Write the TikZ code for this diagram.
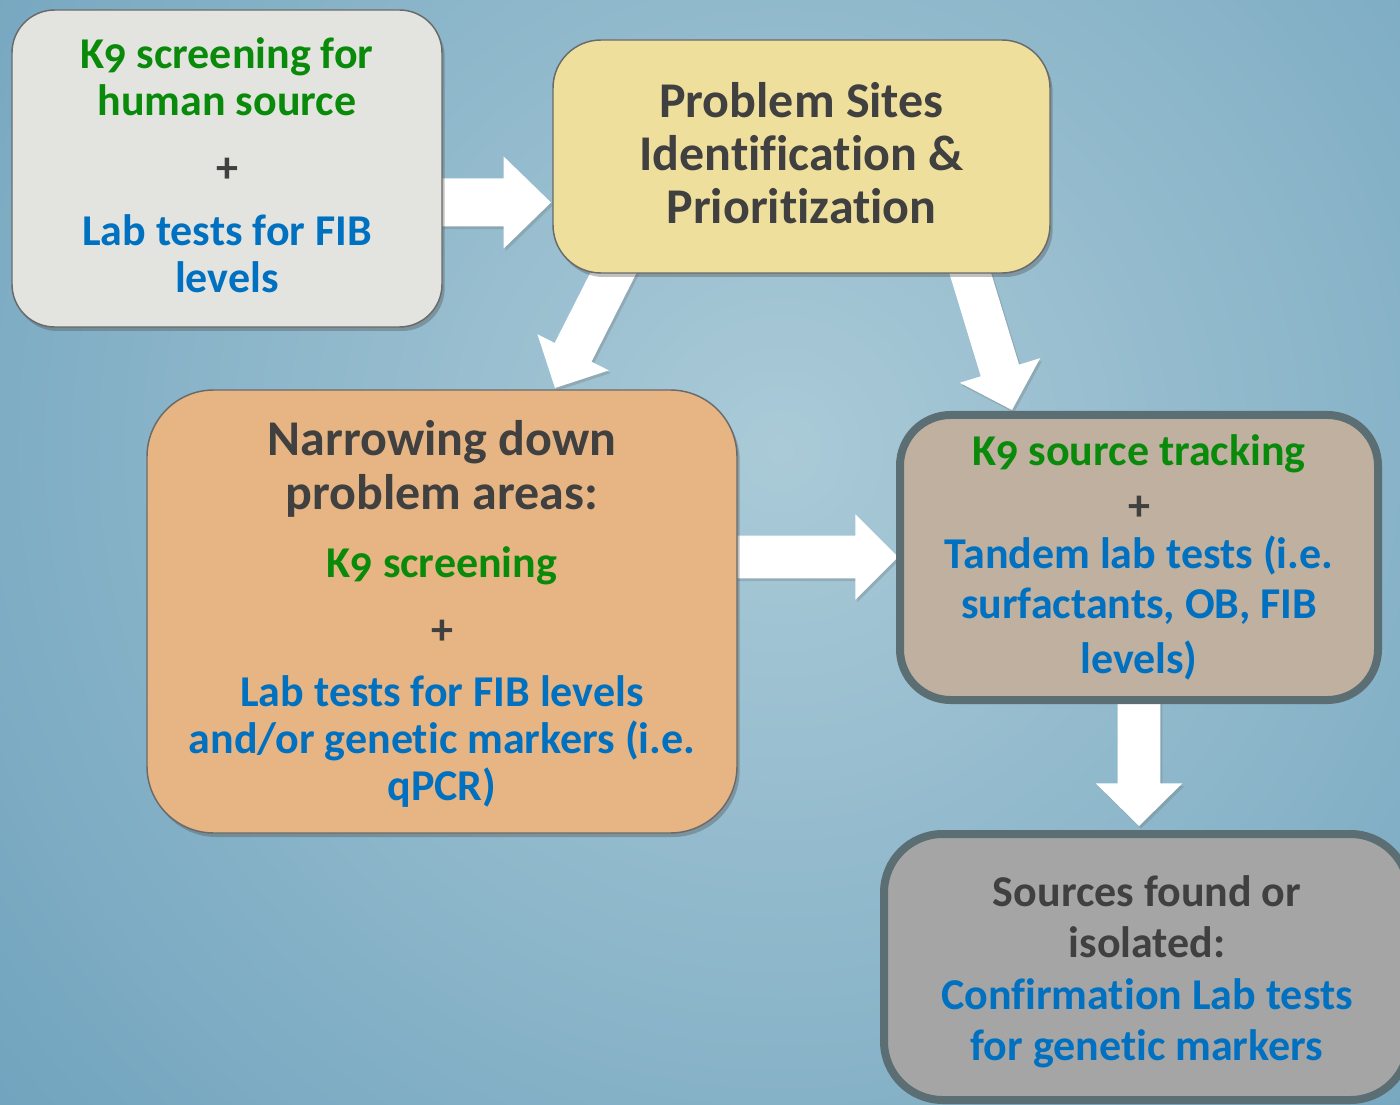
\documentclass[tikz,border=0pt]{standalone}
\usepackage{fontspec}
\setmainfont{Carlito}[Ligatures=NoCommon,Numbers=OldStyle]
\usetikzlibrary{calc,shadows}
\definecolor{bgin}{HTML}{AACAD7}
\definecolor{bgout}{HTML}{6A9FBB}
\definecolor{fillA}{HTML}{E3E4DF}
\definecolor{fillB}{HTML}{EFDF9D}
\definecolor{fillC}{HTML}{E7B583}
\definecolor{fillD}{HTML}{BFB09F}
\definecolor{fillE}{HTML}{A5A5A5}
\definecolor{thickedge}{HTML}{5A6E73}
\definecolor{thinedge}{HTML}{6A6A6A}
\definecolor{kgreen}{HTML}{0A8A0A}
\definecolor{lblue}{HTML}{0070C0}
\definecolor{dgray}{HTML}{404040}
\newcommand\blockarr[6]{% name, start, tip, shaft half, head half, head length (pt)
  \coordinate (#1hb) at ($(#3)!#6!(#2)$);
  \fill[arrowbody] ($(#2)!#4!90:(#3)$) -- ($(#1hb)!#4!90:(#3)$) -- ($(#1hb)!#5!90:(#3)$)
    -- (#3) -- ($(#1hb)!#5!-90:(#3)$) -- ($(#1hb)!#4!-90:(#3)$) -- ($(#2)!#4!-90:(#3)$) -- cycle;
}
\begin{document}
\begin{tikzpicture}[x=0.75pt,y=-0.75pt,
  boxshadow/.style={drop shadow={shadow xshift=2pt,shadow yshift=-3pt,opacity=0.35,fill=black!70}},
  thinbox/.style={draw=thinedge,line width=1.1pt,boxshadow,inner sep=0pt},
  thickbox/.style={draw=thickedge,line width=6pt,inner sep=0pt},
  arrowbody/.style={fill=white,drop shadow={shadow xshift=1.5pt,shadow yshift=-2pt,opacity=0.25,fill=black!60}},
  ln/.style={anchor=base,inner sep=0pt,font=\bfseries\fontsize{33}{36}\selectfont},
  big/.style={anchor=base,inner sep=0pt,font=\bfseries\fontsize{37.5}{40}\selectfont,text=dgray},
  gr/.style={ln,text=kgreen},
  bl/.style={ln,text=lblue},
  pl/.style={ln,text=dgray},
]
\useasboundingbox (0,0) rectangle (1400,1105);
\begin{scope}
\clip (0,0) rectangle (1400,1105);
\fill[bgout] (0,0) rectangle (1400,1105);
\shade[inner color=bgin,outer color=bgout] (780,450) circle (1150);
\end{scope}

% anchor coordinates for the block arrows
\coordinate (a1s) at (420,202.5);  \coordinate (a1t) at (551,202.5);
\coordinate (a2s) at (625,250);    \coordinate (a2t) at (555,388);
\coordinate (a3s) at (961,243);    \coordinate (a3t) at (1012,410);
\coordinate (a4s) at (700,557);    \coordinate (a4t) at (898,557);
\coordinate (a5s) at (1139,690);   \coordinate (a5t) at (1139,826);
\blockarr{a1}{a1s}{a1t}{18pt}{34.5pt}{35.5pt}
\blockarr{a2}{a2s}{a2t}{15.5pt}{30pt}{30pt}
\blockarr{a3}{a3s}{a3t}{15pt}{31.5pt}{31pt}
\blockarr{a4}{a4s}{a4t}{16pt}{32pt}{32pt}
\blockarr{a5}{a5s}{a5t}{16pt}{32.5pt}{32pt}

% boxes
\node[thinbox,fill=fillA,rounded corners=32pt,minimum width=322.5pt,minimum height=237.75pt] (boxA) at (227,168.5) {};
\node[thinbox,fill=fillB,rounded corners=36pt,minimum width=372.75pt,minimum height=174.75pt] (boxB) at (801.5,156.5) {};
\node[thinbox,fill=fillC,rounded corners=50pt,minimum width=442.5pt,minimum height=332.25pt] (boxC) at (442,611.5) {};
\node[thickbox,fill=fillD,rounded corners=38pt,minimum width=358.5pt,minimum height=213.75pt] (boxD) at (1139,557.5) {};
\node[thickbox,fill=fillE,rounded corners=44pt,minimum width=393.75pt,minimum height=199.5pt] (boxE) at (1146.5,967) {};

% texts box A
\node[gr] (tA1) at (227,69) {K9 screening for};
\node[gr] (tA2) at (227,116) {human source};
\node[pl] (tA3) at (227,183) {+};
\node[bl] (tA4) at (227,246) {Lab tests for FIB};
\node[bl] (tA5) at (227,293) {levels};
% texts box B
\node[big] (tB1) at (801.5,118) {Problem Sites};
\node[big] (tB2) at (801.5,171) {Identification \&};
\node[big] (tB3) at (801.5,224) {Prioritization};
% texts box C
\node[big] (tC1) at (442,456) {Narrowing down};
\node[big] (tC2) at (442,509) {problem areas:};
\node[gr] (tC3) at (442,577) {K9 screening};
\node[pl] (tC4) at (442,644) {+};
\node[bl] (tC5) at (442,706) {Lab tests for FIB levels};
\node[bl] (tC6) at (442,753) {and/or genetic markers (i.e.};
\node[bl] (tC7) at (442,800) {qPCR)};
% texts box D
\node[gr] (tD1) at (1139,466) {K9 source tracking};
\node[pl] (tD2) at (1139,521) {+};
\node[bl] (tD3) at (1139,568) {Tandem lab tests (i.e.};
\node[bl] (tD4) at (1139,618) {surfactants, OB, FIB};
\node[bl] (tD5) at (1139,673) {levels)};
% texts box E
\node[pl] (tE1) at (1147,906) {Sources found or};
\node[pl] (tE2) at (1147,957) {isolated:};
\node[bl] (tE3) at (1147,1009) {Confirmation Lab tests};
\node[bl] (tE4) at (1147,1060) {for genetic markers};
\end{tikzpicture}
\end{document}
